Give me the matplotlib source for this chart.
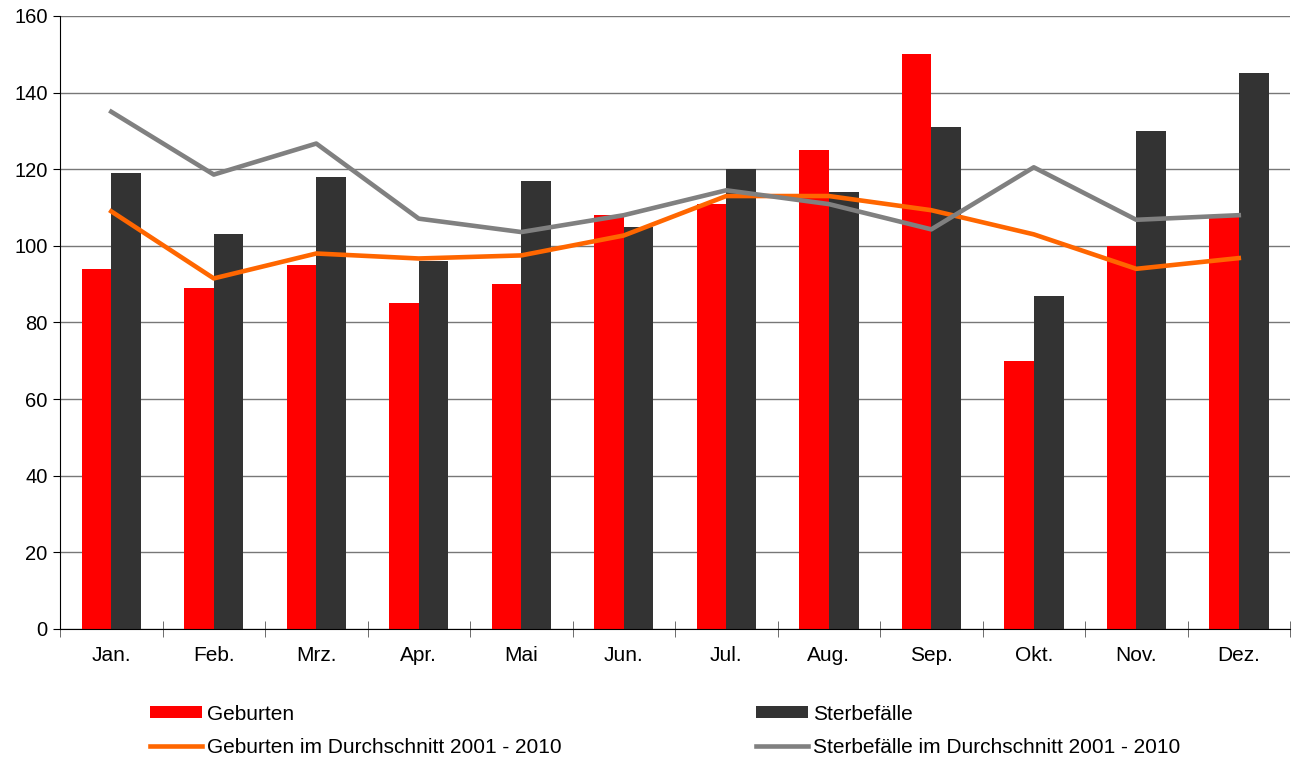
import numpy as np
import matplotlib.pyplot as plt

plt.rcParams['font.family'] = ['Liberation Sans', 'DejaVu Sans']

monate = ['Jan.', 'Feb.', 'Mrz.', 'Apr.', 'Mai', 'Jun.', 'Jul.', 'Aug.',
          'Sep.', 'Okt.', 'Nov.', 'Dez.']
geburten = [94, 89, 95, 85, 90, 108, 111, 125, 150, 70, 100, 108]
sterbefaelle = [119, 103, 118, 96, 117, 105, 120, 114, 131, 87, 130, 145]
geburten_avg = [109, 91.5, 98, 96.7, 97.5, 102.7, 113, 113, 109.3, 103, 94, 96.8]
sterbe_avg = [135, 118.6, 126.7, 107.1, 103.6, 108, 114.5, 110.9, 104.3, 120.5, 106.8, 108]

x = np.arange(len(monate))
w = 0.29

fig = plt.figure(figsize=(12.96, 7.6), dpi=100)
ax = fig.add_axes([0.0463, 0.1724, 0.9491, 0.8066])

ax.bar(x - w/2, geburten, w, color='#ff0000', label='Geburten', zorder=2)
ax.bar(x + w/2, sterbefaelle, w, color='#333333', label='Sterbefälle', zorder=2)
ax.plot(x, geburten_avg, color='#ff6600', lw=3.3, label='Geburten im Durchschnitt 2001 - 2010', zorder=3)
ax.plot(x, sterbe_avg, color='#808080', lw=3.3, label='Sterbefälle im Durchschnitt 2001 - 2010', zorder=3)

ax.set_xlim(-0.5, 11.5)
ax.set_ylim(0, 160)
ax.set_yticks(np.arange(0, 161, 20))
ax.yaxis.grid(True, color='#777777', lw=1)
ax.set_axisbelow(True)

ax.set_xticks(x)
ax.set_xticklabels(monate)
ax.set_xticks(np.arange(-0.5, 12, 1), minor=True)
ax.tick_params(axis='x', which='major', length=0, pad=12, labelsize=15)
ax.tick_params(axis='x', which='minor', length=12, direction='inout', color='#555555')
ax.tick_params(axis='y', length=5, pad=4, labelsize=14.5)

for s in ['top', 'right']:
    ax.spines[s].set_visible(False)
ax.spines['left'].set_color('black')
ax.spines['bottom'].set_color('black')

# legend below the plot, two columns
h, l = ax.get_legend_handles_labels()
order = [2, 0, 3, 1]
fig.legend([h[i] for i in order], [l[i] for i in order], ncol=2,
           loc='upper left', bbox_to_anchor=(0.116, 0.073), frameon=False,
           fontsize=15, handlelength=2.5, handleheight=0.48, handletextpad=0.24,
           columnspacing=9.3, labelspacing=0.68, borderpad=0, borderaxespad=0)

fig.savefig('out.png', dpi=100)
